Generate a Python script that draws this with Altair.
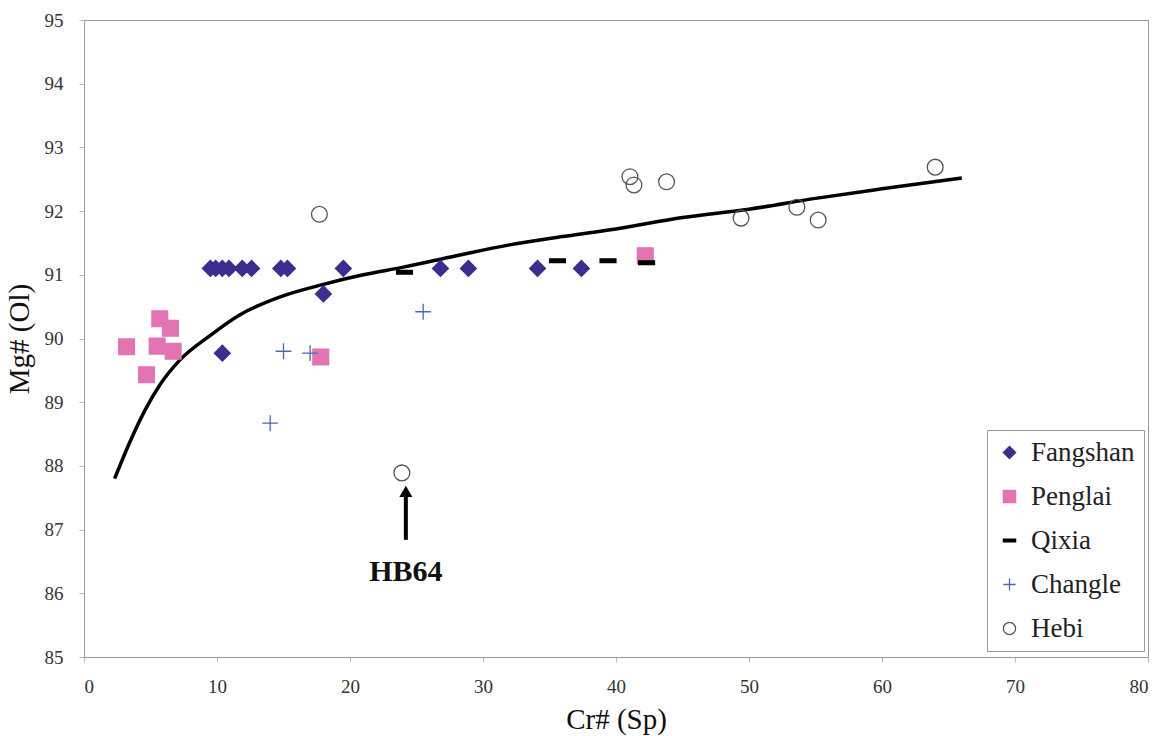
import altair as alt
import pandas as pd

SERIES = ["Fangshan", "Penglai", "Qixia", "Changle", "Hebi"]

fangshan_x = [9.5, 9.9, 10.4, 10.9, 11.9, 12.6, 14.8, 15.3, 19.5, 26.8, 28.9, 34.1, 37.4, 10.4, 18.0]
fangshan_y = [91.1, 91.1, 91.1, 91.1, 91.1, 91.1, 91.1, 91.1, 91.1, 91.1, 91.1, 91.1, 91.1, 89.77, 90.7]

penglai_x = [3.2, 5.7, 6.5, 5.5, 6.7, 4.7, 17.8, 42.2]
penglai_y = [89.87, 90.31, 90.16, 89.88, 89.80, 89.43, 89.71, 91.30]

qixia_x = [24.1, 35.6, 39.4, 42.3]
qixia_y = [91.04, 91.22, 91.22, 91.19]

changle_x = [14.0, 15.0, 17.0, 25.5]
changle_y = [88.67, 89.80, 89.77, 90.42]

hebi_x = [17.7, 23.9, 41.05, 41.35, 43.8, 49.4, 53.6, 55.2, 64.0]
hebi_y = [91.95, 87.89, 92.54, 92.41, 92.46, 91.89, 92.06, 91.86, 92.69]

curve_x = [2.3, 3.5, 4.6, 5.7, 7.2, 9.5, 11.7, 14.7, 18.0, 21.0, 24.0, 28.0, 32.0, 36.0, 40.0, 45.0, 50.0, 55.0, 60.0, 66.0]
curve_y = [87.8, 88.4, 88.88, 89.27, 89.66, 90.05, 90.37, 90.65, 90.85, 91.0, 91.12, 91.3, 91.47, 91.6, 91.72, 91.9, 92.03, 92.2, 92.35, 92.52]

arrow_x = [24.2]
arrow_y_start = [86.84]
arrow_y_end = [87.55]
arrow_head_y = [87.6]
label_text = ["HB64"]
label_y = [86.33]

x_ticks = [0, 10, 20, 30, 40, 50, 60, 70, 80]
y_ticks = [85, 86, 87, 88, 89, 90, 91, 92, 93, 94, 95]

shapes = ["diamond", "square", "M-1,-0.24H1V0.24H-1Z", "M-1,0H1M0,-1V1", "circle"]
fills = ["#3b2e8e", "#e274b4", "#000000", "transparent", "transparent"]
strokes = ["#3b2e8e", "#e274b4", "#000000", "#4a68b0", "#555555"]

rows = []
for name, xs, ys in [("Fangshan", fangshan_x, fangshan_y), ("Penglai", penglai_x, penglai_y),
                     ("Qixia", qixia_x, qixia_y), ("Changle", changle_x, changle_y),
                     ("Hebi", hebi_x, hebi_y)]:
    for a, b in zip(xs, ys):
        rows.append({"series": name, "cr": a, "mg": b})
df = pd.DataFrame(rows)
curve_df = pd.DataFrame({"cr": curve_x, "mg": curve_y})
arrow_df = pd.DataFrame({"cr": arrow_x, "y1": arrow_y_start, "y2": arrow_y_end, "yh": arrow_head_y,
                         "label": label_text, "ly": label_y})

FONT = "Liberation Serif"
xscale = alt.Scale(domain=[0, 80], nice=False)
yscale = alt.Scale(domain=[85, 95], nice=False)

xaxis = alt.Axis(values=x_ticks, format="d", grid=False, title="Cr# (Sp)", labelFont=FONT, labelFontSize=19,
                 labelColor="#333", tickColor="#bbb", tickSize=5, domainColor="#999",
                 labelPadding=15, titleFont=FONT, titleFontSize=29, titleFontWeight="normal",
                 titleColor="#111", titlePadding=9)
yaxis = alt.Axis(values=y_ticks, format="d", grid=False, title="Mg# (Ol)", labelFont=FONT, labelFontSize=19,
                 labelColor="#333", tickColor="#bbb", tickSize=5, domainColor="#999",
                 labelPadding=16, titleFont=FONT, titleFontSize=29, titleFontWeight="normal",
                 titleColor="#111", titlePadding=10)

leg = alt.Legend(title=None, orient="none", legendX=903, legendY=410, labelFont=FONT,
                 labelFontSize=27, labelColor="#222", symbolSize=150, symbolStrokeWidth=1.3,
                 padding=9, rowPadding=16, labelOffset=8, strokeColor="#999", fillColor="white",
                 symbolOpacity=1)

curve = alt.Chart(curve_df).mark_line(color="black", strokeWidth=3.5, interpolate="monotone").encode(
    x=alt.X("cr:Q", scale=xscale, axis=xaxis),
    y=alt.Y("mg:Q", scale=yscale, axis=yaxis),
)

points = alt.Chart(df).mark_point(opacity=1, size=250, strokeWidth=1.3).encode(
    x=alt.X("cr:Q", scale=xscale),
    y=alt.Y("mg:Q", scale=yscale),
    shape=alt.Shape("series:N", scale=alt.Scale(domain=SERIES, range=shapes), legend=leg, sort=SERIES),
    fill=alt.Fill("series:N", scale=alt.Scale(domain=SERIES, range=fills), legend=leg, sort=SERIES),
    stroke=alt.Stroke("series:N", scale=alt.Scale(domain=SERIES, range=strokes), legend=leg, sort=SERIES),
)

shaft = alt.Chart(arrow_df).mark_rule(color="black", strokeWidth=4).encode(
    x=alt.X("cr:Q", scale=xscale), y=alt.Y("y1:Q", scale=yscale), y2="y2:Q")
head = alt.Chart(arrow_df).mark_point(shape="triangle-up", filled=True, color="black", opacity=1, size=170).encode(
    x=alt.X("cr:Q", scale=xscale), y=alt.Y("yh:Q", scale=yscale))
label = alt.Chart(arrow_df).mark_text(font=FONT, fontSize=30, fontWeight="bold", color="#111",
                                      baseline="middle", align="center").encode(
    x=alt.X("cr:Q", scale=xscale), y=alt.Y("ly:Q", scale=yscale), text="label:N")

chart = alt.layer(curve, points, shaft, head, label).properties(
    width=1064, height=637,
    autosize=alt.AutoSizeParams(type="none"),
    padding={"left": 84, "top": 20, "right": 13, "bottom": 79},
).configure(
    background="white", font=FONT
).configure_view(
    stroke="#999", strokeWidth=1
).configure_axis(
    labelFont=FONT, titleFont=FONT
).configure_legend(
    labelFont=FONT
)

chart.save("out.html", embed_options={"renderer": "svg", "actions": False})
